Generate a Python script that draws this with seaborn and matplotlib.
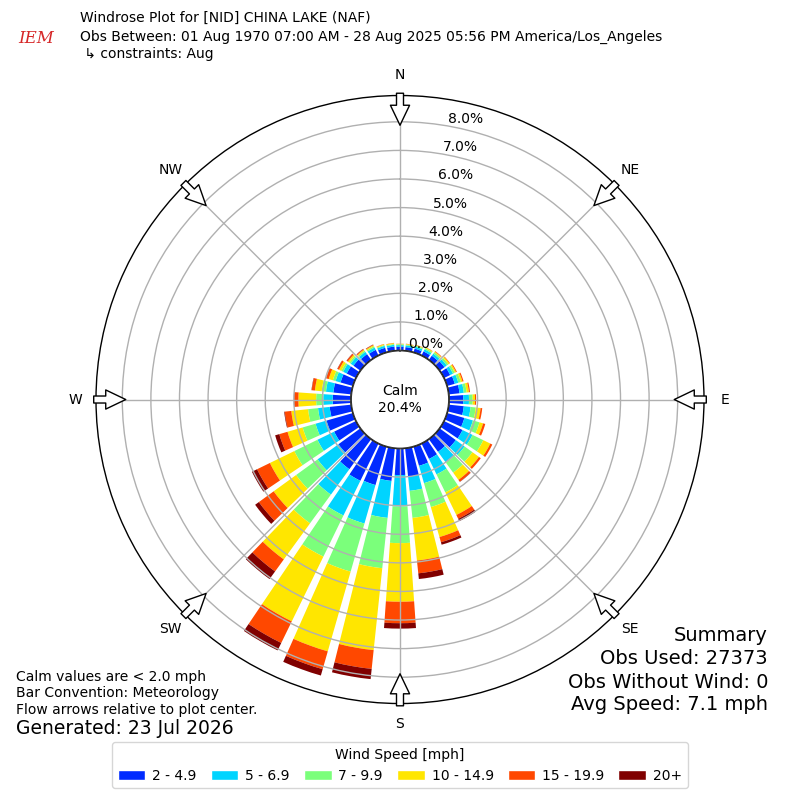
# windrose chart for China Lake, August observations

import numpy as np
import matplotlib
matplotlib.use("Agg")
import matplotlib.pyplot as plt
from matplotlib.patches import Patch
import seaborn as sns

# direction bins (deg, where the wind comes from)
directions = list(range(0, 360, 10))

speed_bins = ["2 - 4.9", "5 - 6.9", "7 - 9.9", "10 - 14.9", "15 - 19.9", "20+"]
bin_colors = ["#002bff", "#00d4ff", "#7bff7b", "#ffe600", "#ff4800", "#800000"]

# frequency [%] per direction, one list per speed bin
pct_2_5 = [0.13, 0.13, 0.14, 0.16, 0.18, 0.21, 0.24, 0.28, 0.38, 0.50, 0.53, 0.63,
           0.72, 0.70, 0.55, 0.60, 0.70, 1.00, 0.93, 1.15, 1.40, 1.45, 1.30, 0.95,
           0.85, 0.96, 0.76, 0.64, 0.63, 0.45, 0.36, 0.30, 0.25, 0.22, 0.17, 0.15]
pct_5_7 = [0.06, 0.06, 0.07, 0.08, 0.09, 0.10, 0.11, 0.13, 0.15, 0.20, 0.24, 0.31,
           0.39, 0.38, 0.47, 0.60, 0.63, 0.50, 1.10, 1.30, 1.40, 1.35, 1.10, 0.90,
           0.65, 0.40, 0.41, 0.33, 0.26, 0.18, 0.14, 0.12, 0.10, 0.09, 0.07, 0.06]
pct_7_10 = [0.03, 0.03, 0.04, 0.05, 0.06, 0.07, 0.07, 0.09, 0.10, 0.13, 0.18, 0.24,
            0.42, 0.34, 0.43, 0.70, 0.87, 0.95, 1.28, 1.77, 1.75, 1.60, 1.24, 0.93,
            0.90, 0.47, 0.35, 0.25, 0.15, 0.10, 0.07, 0.06, 0.05, 0.05, 0.03, 0.03]
pct_10_15 = [0.015, 0.02, 0.02, 0.03, 0.03, 0.05, 0.05, 0.06, 0.08, 0.08, 0.17, 0.13,
             0.27, 0.28, 0.31, 0.88, 1.09, 1.50, 2.05, 2.88, 2.90, 2.52, 1.56, 0.97,
             0.95, 0.55, 0.59, 0.62, 0.24, 0.15, 0.09, 0.06, 0.04, 0.04, 0.03, 0.03]
pct_15_20 = [0.005, 0.01, 0.01, 0.01, 0.02, 0.02, 0.03, 0.04, 0.04, 0.04, 0.06, 0.08,
             0.08, 0.08, 0.08, 0.15, 0.19, 0.45, 0.75, 0.66, 0.65, 0.84, 0.52, 0.64,
             0.50, 0.30, 0.23, 0.15, 0.11, 0.09, 0.06, 0.05, 0.03, 0.02, 0.01, 0.01]
pct_20_up = [0.0, 0.0, 0.0, 0.0, 0.0, 0.0, 0.0, 0.0, 0.0, 0.0, 0.0, 0.0,
             0.0, 0.0, 0.01, 0.09, 0.09, 0.20, 0.19, 0.36, 0.23, 0.29, 0.33, 0.16,
             0.20, 0.15, 0.02, 0.01, 0.01, 0.01, 0.01, 0.01, 0.01, 0.01, 0.0, 0.0]

compass_labels = ["N", "NE", "E", "SE", "S", "SW", "W", "NW"]
r_ticks = [0, 1, 2, 3, 4, 5, 6, 7, 8]
calm_pct = 20.4

sns.set_theme(style="white")
plt.rcParams["font.family"] = ["DejaVu Sans"]
plt.rcParams["text.color"] = "black"

fig = plt.figure(figsize=(8, 8), dpi=100)
ax = fig.add_axes([0.12, 0.1206, 0.76, 0.76], projection="polar")
ax.set_theta_zero_location("N")
ax.set_theta_direction(-1)

theta = np.deg2rad(directions)
bottom = np.zeros(len(directions))
for vals, color, lab in zip([pct_2_5, pct_5_7, pct_7_10, pct_10_15, pct_15_20, pct_20_up],
                            bin_colors, speed_bins):
    ax.bar(theta, vals, width=np.deg2rad(8), bottom=bottom, color=color,
           linewidth=0, label=lab, zorder=1)
    bottom = bottom + np.array(vals)

ax.set_ylim(0, 8.92)
ax.set_rorigin(-1.713)

ax.set_yticks(r_ticks)
ax.set_yticklabels([f"{t:.1f}%" for t in r_ticks], fontsize=10, color="black")
ax.set_rlabel_position(10)
ax.set_xticks(np.deg2rad(np.arange(0, 360, 45)))
ax.set_xticklabels(compass_labels, fontsize=10, color="black")
ax.tick_params(axis="x", pad=2)
ax.grid(True, color="#b0b0b0", lw=1)
ax.set_axisbelow(False)
ax.spines["polar"].set_color("black")
ax.spines["polar"].set_linewidth(1)

# calm circle
circ = np.linspace(0, 2 * np.pi, 361)
ax.plot(circ, np.zeros_like(circ), color="black", lw=1, zorder=4)
ax.text(0.5, 0.5, f"Calm\n{calm_pct}%", transform=ax.transAxes,
        ha="center", va="center", fontsize=10, color="black")

# flow arrows
for ang in range(0, 360, 45):
    ax.annotate("", xy=(np.deg2rad(ang), 7.88), xytext=(np.deg2rad(ang), 9.0),
                arrowprops=dict(arrowstyle="simple,head_length=1.2,head_width=1.15,tail_width=0.42",
                                fc="white", ec="black", lw=1, shrinkA=0, shrinkB=0,
                                clip_on=False),
                annotation_clip=False, zorder=6)

# header
fig.text(0.045, 0.952, "IEM", color="#d62728", fontsize=12, family="DejaVu Serif",
         style="italic", ha="center", va="center")
fig.text(0.1, 0.9775, "Windrose Plot for [NID] CHINA LAKE (NAF)", fontsize=10, va="center")
fig.text(0.1, 0.954, "Obs Between: 01 Aug 1970 07:00 AM - 28 Aug 2025 05:56 PM America/Los_Angeles",
         fontsize=10, va="center")
fig.text(0.1, 0.9325, " \u21b3 constraints: Aug", fontsize=10, va="center")

# notes
fig.text(0.02, 0.154, "Calm values are < 2.0 mph", fontsize=10, va="center")
fig.text(0.02, 0.134, "Bar Convention: Meteorology", fontsize=10, va="center")
fig.text(0.02, 0.1125, "Flow arrows relative to plot center.", fontsize=10, va="center")
fig.text(0.02, 0.09, "Generated: 23 Jul 2026", fontsize=13.5, va="center")

fig.text(0.96, 0.206, "Summary", fontsize=14, ha="right", va="center")
fig.text(0.96, 0.1775, "Obs Used: 27373", fontsize=14, ha="right", va="center")
fig.text(0.96, 0.1475, "Obs Without Wind: 0", fontsize=14, ha="right", va="center")
fig.text(0.96, 0.119, "Avg Speed: 7.1 mph", fontsize=14, ha="right", va="center")

handles = [Patch(facecolor=c, label=l) for c, l in zip(bin_colors, speed_bins)]
leg = fig.legend(handles=handles, loc="lower center", bbox_to_anchor=(0.5, 0.006), ncol=6,
                 title="Wind Speed [mph]", fontsize=10, title_fontsize=10, frameon=True,
                 edgecolor="#cccccc", fancybox=True, handletextpad=0.5, columnspacing=1.0)
for t in leg.get_texts():
    t.set_color("black")
leg.get_title().set_color("black")

fig.savefig("out.png", dpi=100)
